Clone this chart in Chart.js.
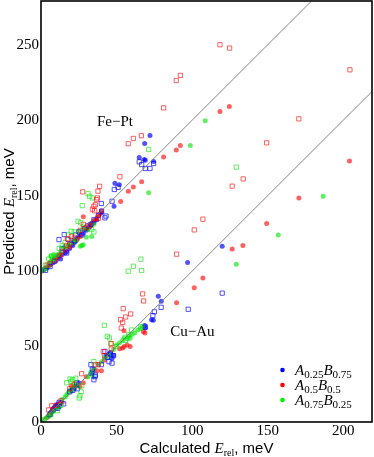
<!DOCTYPE html>
<html><head><meta charset="utf-8">
<script src="https://cdn.jsdelivr.net/npm/chart.js@4/dist/chart.umd.min.js"></script>
<style>html,body{margin:0;padding:0;background:#fff}#c{display:block}</style>
</head><body>
<canvas id="c" width="374" height="457"></canvas>
<script>
// ---- data ----
const xTicks = [0, 50, 100, 150, 200];
const yTicks = [0, 50, 100, 150, 200, 250];
const seriesLabels = [["A","0.25","B","0.75"],["A","0.5","B","0.5"],["A","0.75","B","0.25"]];
const systemLabels = ["Fe\u2212Pt", "Cu\u2212Au"];
const systemLabelAt = [[37, 196], [85.5, 57]];

const cuAuLine = [[0,0],[219,219]];
const fePtLine = [[0,100],[179,279]];

const blueFilled = [
 [5,4],[6,6],[7,7],[8,9],[9,10],[10,11],[11,12],[12,10],[13,13],[20,21],[22,22],[24,24],[25,26],[33,32],[34,33],[35,35],
 [43,44],[45,45],[46,46],[47,42],[48,44],[68.6,64],[69,62.3],[73.2,67.8],[74.3,67.5],[77.6,83.3],[79.6,80],[97,105.7],[119.9,116.5],
 [2,101],[4,102],[6,104],[8,105.5],[10,107],[11,109],[12,110],[13,108],[14,111],[16,112],[17,113],[19,115],[21,117],[22,119],
 [23,120],[24,122],[26,124],[28,125],[30,127],[32,129],[33,131],[35,132],[37,134],[39.9,138.6],[48.3,143],[48.9,158.3],
 [51.8,157.2],[65,175.3],[68.3,174],[69,173.5],[74.5,172.6],[68.6,184.6],[72.1,189.9]
];
const blueOpen = [
 [6,5],[8,8],[10,10],[11,9],[12,13],[15,12],[19,20],[21,21],[23.6,25.9],[24,22],[33,38],[34,35],[35,28],[36,31],[35.7,30],
 [40,38],[42.3,46.8],[44,43],[45,40],[46,45],[47,39],[48,44],[69,63],[74,70.5],[75,73],[79.5,76],[97.4,74.7],[119.9,85.4],
 [3,100.5],[6,103],[9,106.5],[11.9,120.9],[15.4,124.2],[14,115],[17,112],[18,121],[20,118],[22,120],[23,124],[25,126],[27,124],
 [29,128],[31,130],[33,131],[35,134],[38,137],[40.1,139.7],[42.3,135.3],[43,136.5],[39.9,144.8],[47,146.3],[48.5,154.1],
 [51,155.5],[65,172.4],[66.6,170.6],[69,168],[72.1,168],[74.5,171.3]
];
const redFilled = [
 [4,3],[6,5],[8,8],[10,10],[12,12],[14,13],[20,24],[22,23],[25.8,23.6],[28,26],[30,30],[37,34],[40,34],[42,41],[52,48.5],
 [54,49],[55,50],[57,51],[59,50],[54.9,60.5],[67.7,60],[68.8,59],[89.7,79.1],[101.4,88.9],[107.1,95.5],[126.5,114.7],
 [133.6,116.9],[149.3,131.5],[170.6,148.5],[204.1,172.9],
 [0.5,100],[3,102],[5,103.5],[10,108],[13,111],[16,114],[19,116],[21,119],[24,121],[26,123],[28,136],[30,128],[33,130],
 [34,132],[35,133.5],[36,134],[37,135.5],[38,137],[39,138],[40,140],[52.7,146.1],[57.8,152.9],[61.1,155.8],[66.6,159.2],
 [81.1,175.7],[89.5,180.2],[92.2,183.2],[118.4,205.8],[124.6,209.1]
];
const redOpen = [
 [5,8],[7.1,10.8],[10,11],[13.2,14.1],[19,22],[22,25],[26.9,32],[36,38],[37.9,38],[41.2,46.6],[42,44],[46.5,48.4],[46.5,51.9],
 [52.7,67.8],[53.1,62.3],[54,66],[54.4,75.1],[56,69.6],[59.3,71.6],[67.2,84.9],[67.9,80.2],[89.7,111.2],[101.4,127.3],
 [107.1,134.4],[126.5,156.3],[133.8,161.1],
 [4,104],[6,105],[9,107],[12,110],[14,113],[17,117],[17.4,121.4],[19,118],[20,123],[22,122],[26,127],[27.6,152.5],[28,131],
 [30,129],[32,130],[34,141],[35,143],[35.5,140],[36,144],[36.8,147.4],[37.3,148.5],[37.7,153],[38.8,156.2],[38,135],
 [52.2,162.5],[57.7,184.4],[61.1,187.9],[66.4,189.7],[81.1,208.2],[89.5,226.3],[92.2,229.7],[118.4,250],[124.8,247.8],
 [149.3,185],[170.6,200.9],[204.4,233.4]
];
const greenFilled = [
 [1,1],[3,2.5],[4.8,3.7],[6,5.5],[8,7],[10,9],[12,11],[14,15],[16,16.5],[17,18],[18,19.5],[19,21],[20,20.5],[21,22],[22,23.5],
 [23,25],[24,24],[31,30],[33,33],[34.6,30.2],[35,35],[38,38],[40,40],[42,42.5],[44,43],[45,44.5],[48,48],[50,51],[52,52.5],
 [54,54],[55,56],[57,55],[58,57],[59,55.5],[60,58],[62,59],[64,61],[66,62],[67,63.5],[129.2,104.6],[157,124],[186.7,149.6],
 [0.5,100],[1.5,101],[2.5,101.5],[4,102.5],[5,104],[6,106],[7,107],[8,108],[9,109],[10,110],[11,111],[6.5,110],[8.5,111],
 [13,112.5],[15,115.5],[16,116],[18,117],[19,118],[21,119],[22,121],[23,120.5],[26,116.5],[27,117],[28,117.5],[30,122.5],
 [33.5,123],[25,126],[28,128],[31,127.5],[35,131],[71.2,151.9],[98.8,183.2],[108.7,199.6]
];
const greenOpen = [
 [2,1.5],[6.6,4.8],[10.8,7.5],[13,11],[17,26],[19.2,28.5],[20,27],[21,28],[23,29],[25.3,15.9],[25.8,17.4],[26.5,20],[27,24],
 [35,40],[41.9,64.1],[43.9,56.8],[45.2,55.7],[46.1,51.9],[50,50],[56,54],[58,58],[60,61],[66,63],
 [57.7,99.9],[61.1,103.2],[66.1,107.9],[66.6,100.4],
 [3,104],[5,108],[7,110],[9,108],[12,115],[14,117],[16,119],[18,124],[20,126.4],[22,126],[24.5,133],[26.3,132],[27.3,143.4],
 [28,129],[31.1,151.4],[32.2,149.6],[33.9,148.5],[33.5,127.5],[35,126],[71.2,180.6],[129.2,168.9]
];

// ---- styling ----
const pal = {
  blue:  {pt:'rgba(0,0,255,0.68)', leg:'#0000ff'},
  red:   {pt:'rgba(255,0,0,0.62)', leg:'#ff0000'},
  green: {pt:'rgba(0,230,0,0.62)', leg:'#00ee00'}
};
const toXY = a => a.map(p => ({x:p[0], y:p[1]}));
function openDs(data, c){ return {data:toXY(data), pointStyle:'rect', pointRadius:3, borderWidth:1, borderColor:c, backgroundColor:'rgba(0,0,0,0)', showLine:false}; }
function fillDs(data, c){ return {data:toXY(data), pointStyle:'circle', pointRadius:2.5, borderWidth:0, backgroundColor:c, borderColor:c, showLine:false}; }
function lineDs(data){ return {data:toXY(data), showLine:true, pointRadius:0, borderColor:'#777', borderWidth:0.9, fill:false}; }

const SERIF = '"Liberation Serif", "Times New Roman", serif';
const SANS = '"Liberation Sans", Arial, sans-serif';

function drawRich(ctx, segs, x, y, align){
  let w = 0;
  segs.forEach(s => { ctx.font = s.f; w += ctx.measureText(s.t).width; });
  let cx = align === 'center' ? x - w/2 : x;
  segs.forEach(s => { ctx.font = s.f; ctx.fillText(s.t, cx, y + (s.dy||0)); cx += ctx.measureText(s.t).width; });
}

const decor = {
  id:'decor',
  afterDraw(chart){
    const ctx = chart.ctx, a = chart.chartArea, xs = chart.scales.x, ys = chart.scales.y;
    ctx.save();
    ctx.fillStyle = '#000';
    ctx.textBaseline = 'alphabetic';
    ctx.textAlign = 'left';
    // frame
    ctx.strokeStyle = '#000'; ctx.lineWidth = 1.6;
    ctx.strokeRect(a.left, a.top, a.right - a.left, a.bottom - a.top);
    // x title
    drawRich(ctx, [
      {t:'Calculated ', f:'15px '+SANS},
      {t:'E', f:'italic 15px '+SERIF},
      {t:'rel', f:'10px '+SERIF, dy:3},
      {t:', meV', f:'15px '+SANS}
    ], (a.left + a.right)/2, 453, 'center');
    // y title
    ctx.save();
    ctx.translate(13.5, (a.top + a.bottom)/2);
    ctx.rotate(-Math.PI/2);
    drawRich(ctx, [
      {t:'Predicted ', f:'15px '+SANS},
      {t:'E', f:'italic 15px '+SERIF},
      {t:'rel', f:'10px '+SERIF, dy:3},
      {t:', meV', f:'15px '+SANS}
    ], 0, 0, 'center');
    ctx.restore();
    // system labels
    ctx.font = '15px ' + SERIF;
    systemLabels.forEach((s, i) => {
      ctx.fillText(s, xs.getPixelForValue(systemLabelAt[i][0]), ys.getPixelForValue(systemLabelAt[i][1]));
    });
    // legend
    const cols = [pal.blue.leg, pal.red.leg, pal.green.leg];
    seriesLabels.forEach((lab, i) => {
      const yy = 370 + i*15;
      ctx.fillStyle = cols[i];
      ctx.beginPath(); ctx.arc(282.5, yy, 2.3, 0, Math.PI*2); ctx.fill();
      ctx.fillStyle = '#000';
      drawRich(ctx, [
        {t:lab[0], f:'italic 15px '+SERIF},
        {t:lab[1], f:'11px '+SERIF, dy:3},
        {t:lab[2], f:'italic 15px '+SERIF},
        {t:lab[3], f:'11px '+SERIF, dy:3}
      ], 295, yy + 5, 'left');
    });
    ctx.restore();
  }
};

new Chart(document.getElementById('c'), {
  type:'scatter',
  data:{ datasets:[
    lineDs(cuAuLine), lineDs(fePtLine),
    openDs(redOpen, pal.red.pt), openDs(greenOpen, pal.green.pt), openDs(blueOpen, pal.blue.pt),
    fillDs(greenFilled, pal.green.pt), fillDs(redFilled, pal.red.pt), fillDs(blueFilled, pal.blue.pt)
  ]},
  options:{
    responsive:false, animation:false, devicePixelRatio:1,
    layout:{autoPadding:false, padding:{top:1, right:2, left:0, bottom:0}},
    plugins:{legend:{display:false}, tooltip:{enabled:false}},
    scales:{
      x:{type:'linear', min:0, max:219,
        afterBuildTicks:s => { s.ticks = xTicks.map(v => ({value:v})); },
        afterFit:s => { s.height = 35; s.paddingLeft = 0; s.paddingRight = 0; },
        grid:{display:false, drawTicks:false}, border:{display:false},
        ticks:{font:{family:SERIF, size:15}, color:'#000', padding:0, maxRotation:0, autoSkip:false}},
      y:{type:'linear', min:0, max:279,
        afterBuildTicks:s => { s.ticks = yTicks.map(v => ({value:v})); },
        afterFit:s => { s.width = 41; s.paddingTop = 0; s.paddingBottom = 0; },
        grid:{display:false, drawTicks:false}, border:{display:false},
        ticks:{font:{family:SERIF, size:15}, color:'#000', padding:2, autoSkip:false}}
    }
  },
  plugins:[decor]
});
</script>
</body></html>
